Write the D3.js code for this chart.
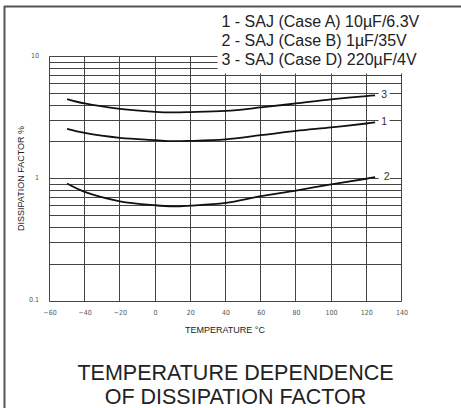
<!DOCTYPE html>
<html>
<head>
<meta charset="utf-8">
<script src="https://cdn.jsdelivr.net/npm/d3@7"></script>
<style>
  html, body { margin: 0; padding: 0; background: #fff; }
  svg { display: block; font-family: "Liberation Sans", Arial, sans-serif; }
</style>
</head>
<body>
<svg id="chart" width="461" height="408"></svg>
<script>
// ---- data ----
const temps   = [-50, -40, -20, 0, 10, 20, 40, 60, 80, 100, 120, 125];
const series1 = [2.56, 2.37, 2.16, 2.07, 2.03, 2.04, 2.10, 2.27, 2.46, 2.63, 2.83, 2.89];
const series2 = [0.913, 0.78, 0.654, 0.607, 0.595, 0.603, 0.634, 0.72, 0.80, 0.90, 1.0, 1.03];
const series3 = [4.49, 4.13, 3.73, 3.53, 3.49, 3.51, 3.59, 3.83, 4.13, 4.46, 4.75, 4.81];
const seriesLabels = ["1", "2", "3"];
const legendLabels = [
  "1 - SAJ (Case A) 10\u00B5F/6.3V",
  "2 - SAJ (Case B) 1\u00B5F/35V",
  "3 - SAJ (Case D) 220\u00B5F/4V"
];
const xTicks = [-60, -40, -20, 0, 20, 40, 60, 80, 100, 120, 140];
const yTickLabels = [10, 1, 0.1];
const xTitle = "TEMPERATURE \u00B0C";
const yTitle = "DISSIPATION FACTOR %";
const titleLines = ["TEMPERATURE DEPENDENCE", "OF DISSIPATION FACTOR"];

// ---- layout ----
const svg = d3.select("#chart");
const pLeft = 49.5, pRight = 401.5, pTop = 56.5, pBottom = 301;
const x = d3.scaleLinear().domain([-60, 140]).range([pLeft, pRight]);
const y = d3.scaleLog().domain([0.1, 10]).range([pBottom, pTop]);
const snap = v => Math.round(v - 0.5) + 0.5;

// frame (top & left)
svg.append("line").attr("x1", 4).attr("x2", 461).attr("y1", 6.5).attr("y2", 6.5)
  .attr("stroke", "#555").attr("stroke-width", 2);
svg.append("line").attr("x1", 4.5).attr("x2", 4.5).attr("y1", 6).attr("y2", 408)
  .attr("stroke", "#555").attr("stroke-width", 2);

// grid
const grid = svg.append("g").attr("stroke", "#444").attr("stroke-width", 1).attr("fill", "none");
grid.selectAll("line.h").data(y.ticks()).join("line").attr("class", "h")
  .attr("x1", pLeft).attr("x2", pRight)
  .attr("y1", d => snap(y(d))).attr("y2", d => snap(y(d)));
grid.selectAll("line.v").data(xTicks).join("line").attr("class", "v")
  .attr("x1", d => snap(x(d))).attr("x2", d => snap(x(d)))
  .attr("y1", snap(y(10))).attr("y2", snap(y(0.1)));

// curves
const line = d3.line().x(d => x(d[0])).y(d => y(d[1])).curve(d3.curveCatmullRom.alpha(0.5));
const allSeries = [series1, series2, series3];
allSeries.forEach((s, i) => {
  const pts = temps.map((t, j) => [t, s[j]]);
  svg.append("path").attr("d", line(pts)).attr("fill", "none")
    .attr("stroke", "#111").attr("stroke-width", 1.8).attr("stroke-linecap", "butt");
  const ex = x(temps[temps.length - 1]) + 8.5;
  const ey = y(s[s.length - 1]) - 1;
  svg.append("rect").attr("x", ex - 5).attr("y", ey - 5).attr("width", 11).attr("height", 10).attr("fill", "#fff");
  svg.append("text").attr("x", ex + (i === 1 ? 3 : 0.5)).attr("y", ey + 3.6)
    .attr("text-anchor", "middle").attr("font-size", 10.5).attr("fill", "#333")
    .text(seriesLabels[i]);
});

// axis tick labels
const xAxis = d3.axisBottom(x).tickValues(xTicks).tickSize(0).tickPadding(0);
const gx = svg.append("g").attr("transform", `translate(0, ${pBottom + 10})`).call(xAxis);
gx.select(".domain").remove();
gx.selectAll("text").attr("font-size", 7).attr("fill", "#555")
  .attr("font-family", "'DejaVu Sans Condensed', 'DejaVu Sans', sans-serif").attr("dy", "0.55em");

const yAxis = d3.axisLeft(y).tickValues(yTickLabels).tickFormat(d3.format("~g")).tickSize(0).tickPadding(0);
const gy = svg.append("g").attr("transform", `translate(39, -1.5)`).call(yAxis);
gy.select(".domain").remove();
gy.selectAll("text").attr("font-size", 7).attr("fill", "#555")
  .attr("font-family", "'DejaVu Sans Condensed', 'DejaVu Sans', sans-serif");

// axis titles
svg.append("text").attr("x", 225).attr("y", 332.5).attr("text-anchor", "middle")
  .attr("font-size", 9).attr("fill", "#222").text(xTitle);
svg.append("text").attr("transform", `translate(24, 178.5) rotate(-90)`).attr("text-anchor", "middle")
  .attr("font-size", 9).attr("fill", "#222").text(yTitle);

// legend (white box covers grid)
svg.append("rect").attr("x", 217.5).attr("y", 8).attr("width", 461 - 217.5).attr("height", 65.5).attr("fill", "#fff");
svg.selectAll("text.legend").data(legendLabels).join("text").attr("class", "legend")
  .attr("x", 221.5).attr("y", (d, i) => 26.5 + i * 19.4)
  .attr("font-size", 16).attr("fill", "#222").text(d => d);

// title
svg.selectAll("text.title").data(titleLines).join("text").attr("class", "title")
  .attr("x", 235.5).attr("y", (d, i) => 379.5 + i * 24.5).attr("text-anchor", "middle")
  .attr("font-size", 21.5).attr("fill", "#222").text(d => d);
</script>
</body>
</html>
